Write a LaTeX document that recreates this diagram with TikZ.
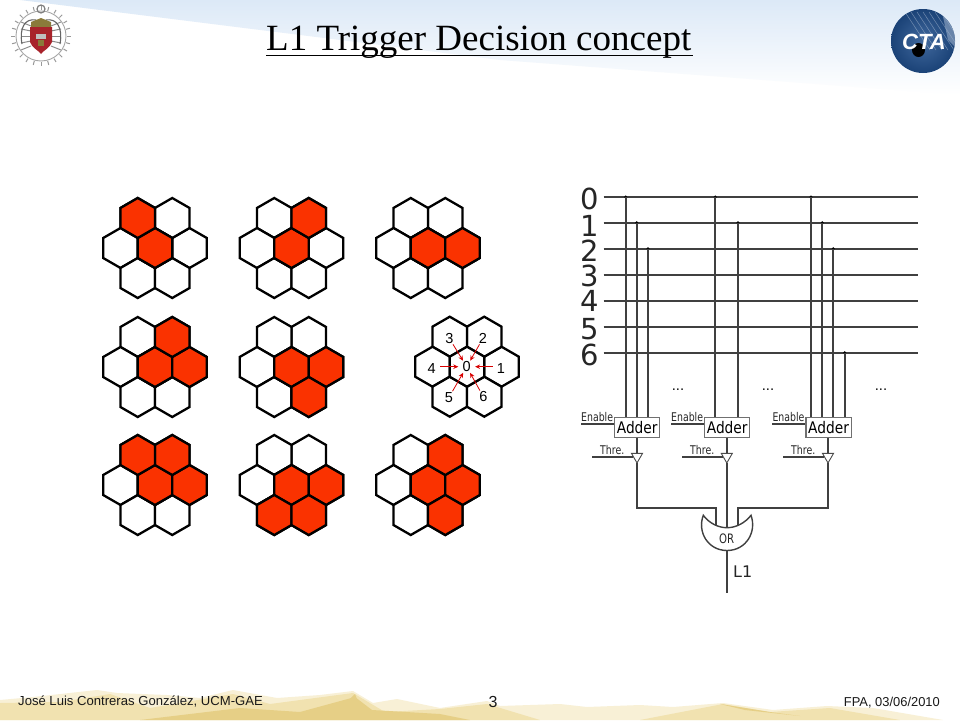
\documentclass[tikz,border=0pt]{standalone}
\usepackage{fontspec}
\usetikzlibrary{shapes.geometric,arrows.meta,calc}
\setmainfont{Liberation Serif}
\newfontfamily\arialf{Liberation Sans}
\newfontfamily\vera{DejaVu Sans}
\newfontfamily\veracond[FakeStretch=0.78]{DejaVu Sans}
\newfontfamily\veramid[FakeStretch=0.86]{DejaVu Sans}
\definecolor{hexred}{HTML}{FA3200}
\definecolor{sandA}{HTML}{F8F0D6}
\definecolor{sandB}{HTML}{F1E2B0}
\definecolor{sandC}{HTML}{E6CF86}
\definecolor{skyblue}{HTML}{DCE9F7}
\definecolor{ctablue}{HTML}{1F4E8C}
\definecolor{boxgray}{HTML}{707070}
\definecolor{sealgold}{HTML}{8A7A3A}
\definecolor{sealred}{HTML}{A8232B}
\tikzset{
  hexcell/.style={regular polygon,regular polygon sides=6,shape border rotate=30,minimum size=40pt,inner sep=0pt,outer sep=0pt,draw=black,line width=2.3pt,line join=miter,fill=white},
  hexnum/.style={font=\arialf\fontsize{14.5}{14.5}\selectfont,inner sep=1pt},
  redarrow/.style={draw=red!85!black,line width=0.8pt,-{Stealth[length=5pt,width=4.5pt]},shorten <=7pt,shorten >=7pt},
  busline/.style={draw=black!75,line width=1.7pt},
  wire/.style={draw=black!75,line width=1.7pt},
  tapdot/.style={circle,fill=black,inner sep=0pt,minimum size=3.2pt},
  digit/.style={font=\vera\fontsize{29}{29}\selectfont,inner sep=0pt,text=black!85},
  adderbox/.style={draw=boxgray,line width=1.2pt,fill=white,minimum width=45pt,minimum height=19.6pt,inner sep=0pt,font=\veramid\fontsize{16}{16}\selectfont},
  smalllab/.style={font=\veracond\fontsize{12}{12}\selectfont,inner sep=0pt,anchor=base west,text=black!85},
  thretri/.style={regular polygon,regular polygon sides=3,shape border rotate=180,minimum size=12.7pt,inner sep=0pt,outer sep=0pt,draw=black!70,line width=0.9pt,fill=white},
  dotslab/.style={font=\vera\fontsize{13}{13}\selectfont,inner sep=0pt},
  footer/.style={font=\arialf\fontsize{12.9}{12.9}\selectfont,inner sep=0pt,anchor=base west,text=black!90},
}
\newcommand{\hexcluster}[4]{%
  \foreach \i/\dx/\dy in {1/34.5/0,2/17.25/-30,3/-17.25/-30,4/-34.5/0,5/-17.25/30,6/17.25/30,0/0/0}
    {\node[hexcell] (#1h\i) at (#2+\dx,#3+\dy) {};}
  \foreach \i in {#4} {\node[hexcell,fill=hexred] at (#1h\i.center) {};}
}
\begin{document}
\begin{tikzpicture}[x=1pt,y=-1pt]
\useasboundingbox (0,0) rectangle (960,720);
\fill[white] (0,0) rectangle (960,720);
% sky band
\shade[top color=skyblue,bottom color=white] (20,0) -- (960,0) -- (960,95) -- (500,60) -- cycle;
% sand hills
\fill[sandA] (0,720) -- (0,700) -- (33,697) -- (97,690) -- (117,693) -- (167,695) -- (200,698) -- (233,690) -- (277,698) -- (320,695) -- (353,691) -- (373,703) -- (397,699) -- (440,708) -- (487,701) -- (500,706) -- (560,704) -- (587,707) -- (640,705) -- (673,707) -- (723,703) -- (773,710) -- (827,706) -- (873,708) -- (943,720) -- cycle;
\fill[sandB] (0,720) -- (0,703) -- (60,702) -- (110,694) -- (150,708) -- (233,694) -- (270,704) -- (353,693) -- (385,712) -- (440,709) -- (487,704) -- (540,720) -- cycle;
\fill[sandB] (640,720) -- (723,704) -- (770,712) -- (830,708) -- (900,720) -- cycle;
\fill[sandC] (140,720) -- (240,708) -- (300,712) -- (355,697) -- (372,710) -- (440,714) -- (470,720) -- cycle;
\fill[sandC] (330,718) -- (355,694) -- (362,712) -- (400,720) -- cycle;
\fill[sandC] (720,704) -- (745,710) -- (800,716) -- (770,712) -- cycle;
% university seal
\begin{scope}[shift={(41,36)}]
  \foreach \a in {0,15,...,345}
    {\draw[black!40,line width=1pt] (\a:26) -- (\a:30);}
  \draw[black!35,line width=0.9pt] (0,0) circle (25);
  \foreach \s in {-1,1}{
    \foreach \k in {0,1,2,3,4}
      {\draw[black!45,line width=1pt] (\s*10,-10+\k*5) -- (\s*20,-14+\k*7);}
    \draw[black!60,line width=1.1pt] (\s*5,-16) .. controls (\s*16,-18) and (\s*22,-8) .. (\s*19,8);
  }
  \draw[black!50,line width=1.2pt] (0,-27) circle (4);
  \fill[sealgold] (-10,-14) -- (0,-18) -- (10,-14) -- (10,-8) -- (-10,-8) -- cycle;
  \fill[sealred] (-11,-9) -- (11,-9) -- (11,6) .. controls (9,12) and (3,14) .. (0,18) .. controls (-3,14) and (-9,12) .. (-11,6) -- cycle;
  \fill[black!25] (-5,-2) rectangle (5,3);
  \fill[sealgold] (-3,4) rectangle (3,10);
\end{scope}
% CTA logo
\shade[inner color=ctablue!85!white,outer color=ctablue!85!black] (923,41) circle (32);
\begin{scope}
  \clip (923,41) circle (32);
  \foreach \k in {0,6,...,36}
    {\draw[white!70!ctablue,line width=0.5pt,opacity=0.5] (905+\k,12) -- (930+\k,50);}
  \fill[white!55!ctablue,opacity=0.6] (942,12) -- (958,20) -- (958,50) -- (948,40) -- cycle;
\end{scope}
\fill[black] (918.5,50) ellipse (6.5 and 7);
\node[font=\arialf\bfseries\itshape\fontsize{22}{22}\selectfont,text=white,inner sep=0pt] (ctatext) at (924,41.5) {CTA};
% title
\node[inner sep=0pt,anchor=base west,font=\fontsize{37}{37}\selectfont] (title) at (266,50.5) {L1 Trigger Decision concept};
\draw[line width=1.8pt] (266,55.5) -- (693,55.5);
% clusters
\hexcluster{a}{155}{248}{0,3}
\hexcluster{b}{291.5}{248}{0,2}
\hexcluster{c}{428}{248}{0,1}
\hexcluster{d}{155}{367}{0,1,2}
\hexcluster{e}{291.5}{367}{0,1,6}
\hexcluster{n}{467}{366.7}{}
\hexcluster{f}{155}{485}{0,1,2,3}
\hexcluster{g}{291.5}{485}{0,1,5,6}
\hexcluster{h}{428}{485}{0,1,2,6}
% numbered cluster labels
\node[hexnum] (n0) at (466.7,366.7) {0};
\node[hexnum] (n1) at (501,368.3) {1};
\node[hexnum] (n2) at (483,338.3) {2};
\node[hexnum] (n3) at (449.3,338.3) {3};
\node[hexnum] (n4) at (431.7,368.3) {4};
\node[hexnum] (n5) at (449,397.3) {5};
\node[hexnum] (n6) at (483.3,396.7) {6};
\draw[redarrow,shorten <=8.3pt,shorten >=8.4pt] (n1 |- n0) -- (n0.center);
\draw[redarrow,shorten <=8.3pt,shorten >=8.4pt] (n4 |- n0) -- (n0.center);
\draw[redarrow] (n2.center) -- (n0.center);
\draw[redarrow] (n3.center) -- (n0.center);
\draw[redarrow] (n5.center) -- (n0.center);
\draw[redarrow] (n6.center) -- (n0.center);
% bus
\foreach \d/\yb/\yl in {0/197/199,1/222.7/225.5,2/248.7/251,3/274.7/275.5,4/300.7/301,5/326.7/329.5,6/352.7/355}{
  \node[digit] (d\d) at (590,\yl) {\d};
  \coordinate (bs\d) at (603.5,\yb);
  \coordinate (be\d) at (918,\yb);
  \draw[busline] (bs\d) -- (be\d);
}
% adders
\node[adderbox] (add1) at (637.2,427.5) {Adder};
\node[adderbox] (add2) at (727.2,427.5) {Adder};
\node[adderbox,minimum width=45.3pt] (add3) at (828.6,427.5) {Adder};
% taps
\foreach \n/\xx/\b/\a in {t1/625.7/0/1,t2/636.7/1/1,t3/648/2/1,t4/715.3/0/2,t5/738/1/2,t6/811/0/3,t7/822.3/1/3,t8/833.3/2/3,t9/844.7/6/3}{
  \coordinate (\n) at (\xx,0);
  \node[tapdot] (\n d) at (\n |- bs\b) {};
  \draw[wire] (\n d.center) -- (\n |- add\a.north);
}
% dots
\node[dotslab] (dots1) at (678,390) {...};
\node[dotslab] (dots2) at (768,390) {...};
\node[dotslab] (dots3) at (881,390) {...};
% enable
\foreach \a/\xs/\xt in {1/581/581,2/671/671,3/772.3/772.3}{
  \coordinate (en\a) at (\xs,424);
  \draw[wire] (en\a) -- (en\a -| add\a.west);
  \node[smalllab] (enl\a) at (\xt,421.5) {Enable};
}
% thresholds
\node[thretri] (tri1) at (637,456.6) {};
\node[thretri] (tri2) at (726.8,456.6) {};
\node[thretri] (tri3) at (828,456.6) {};
\foreach \a/\xs/\xt in {1/592/600,2/682/690,3/783/791}{
  \coordinate (th\a) at (\xs,456.7);
  \draw[wire] (th\a) -- (tri\a.west |- th\a);
  \node[smalllab] (thl\a) at (\xt,454) {Thre.};
  \draw[wire] (tri\a |- add\a.south) -- (tri\a.north);
}
% OR gate
\draw[wire,fill=white,line width=1.4pt] (703.3,515.3) .. controls (697,532) and (708,550.5) .. (727,550.5) .. controls (746,550.5) and (757,532) .. (751,515.3) .. controls (745,523) and (736,527.7) .. (727,527.7) .. controls (718,527.7) and (709,523) .. (703.3,515.3) -- cycle;
\node[font=\veracond\fontsize{13}{13}\selectfont,inner sep=0pt,text=black!85] (orgate) at (726.7,538.5) {OR};
\coordinate (orin1) at (715.7,524.5);
\coordinate (orin2) at (726.8,527.7);
\coordinate (orin3) at (738,524.5);
\coordinate (orout) at (726.8,550.5);
\coordinate (l1end) at (726.8,592.7);
\draw[wire] (tri1.south) |- (715.7,508.3) -- (orin1);
\draw[wire] (tri3.south) |- (738,508.3) -- (orin3);
\draw[wire] (tri2.south) -- (orin2);
\draw[wire] (orout) -- (l1end);
\node[font=\vera\fontsize{16}{16}\selectfont,inner sep=0pt,anchor=base west,text=black!85] (l1) at (733,577.5) {L1};
% footer
\node[footer,font=\arialf\fontsize{13.1}{13.1}\selectfont] (fleft) at (18,705.5) {José Luis Contreras González, UCM-GAE};
\node[footer,anchor=base,font=\arialf\fontsize{16}{16}\selectfont] (fpage) at (493,707.5) {3};
\node[footer,anchor=base east] (fright) at (940,706.5) {FPA, 03/06/2010};
\end{tikzpicture}
\end{document}
